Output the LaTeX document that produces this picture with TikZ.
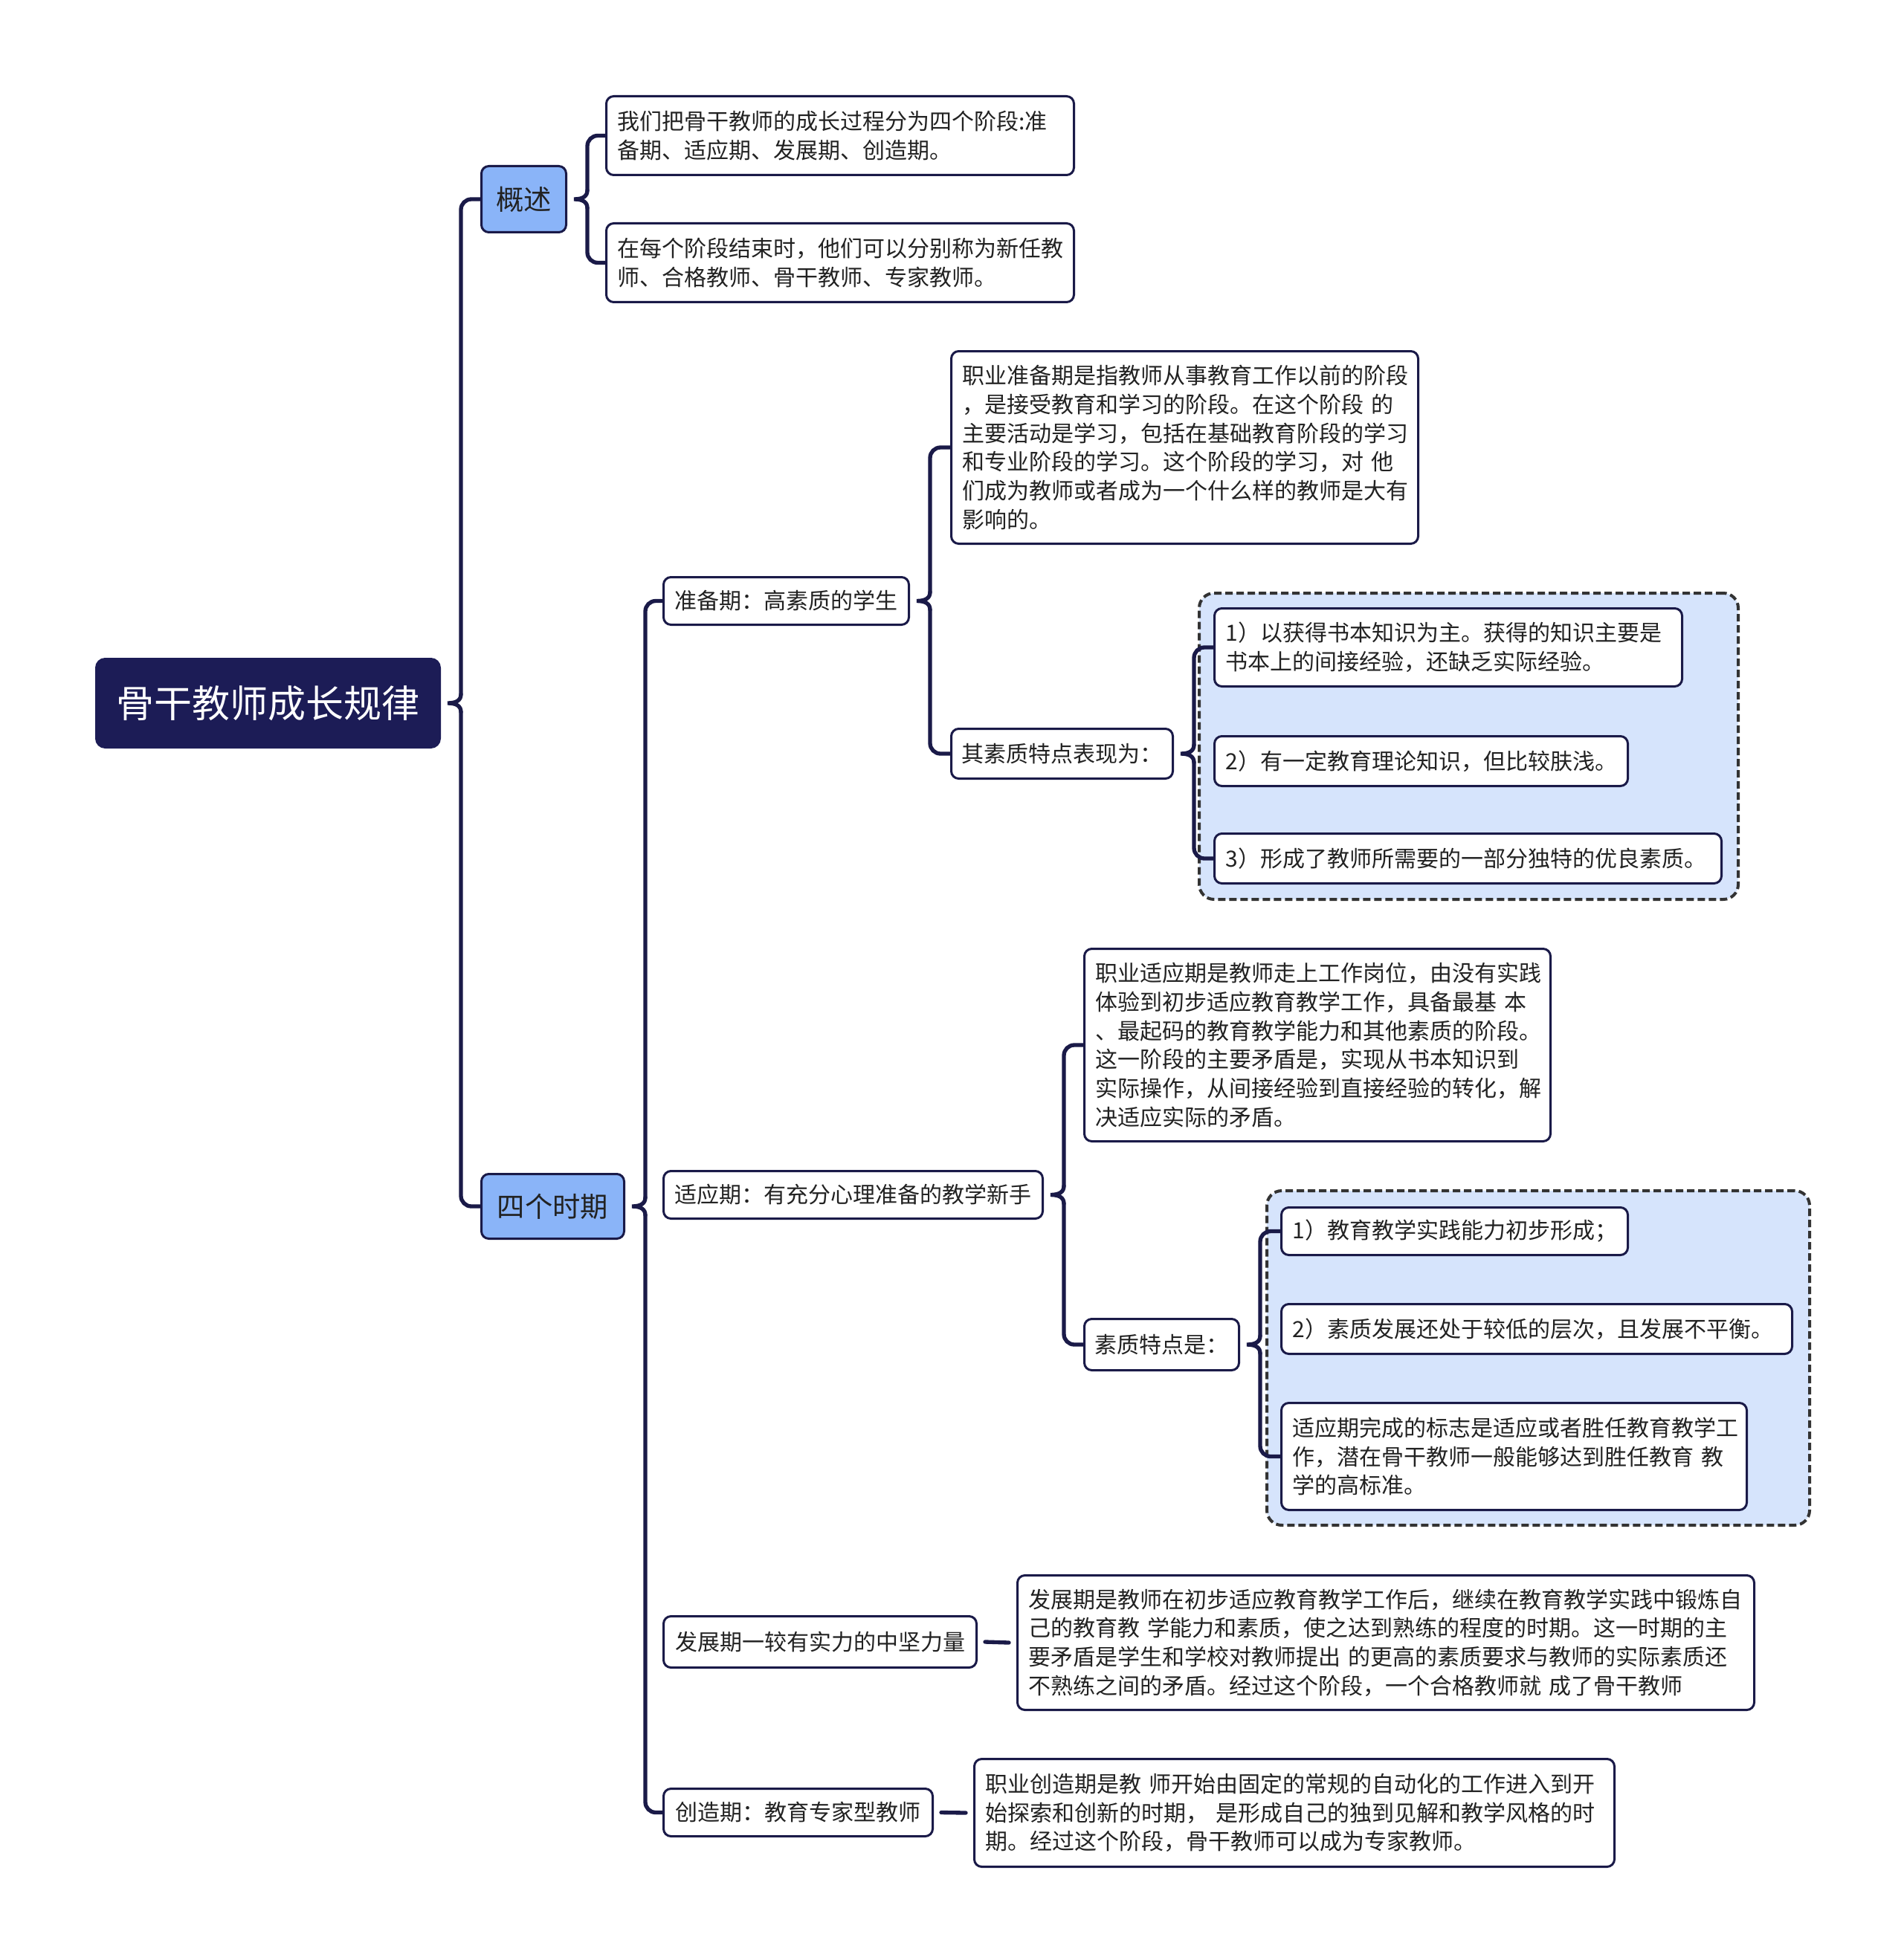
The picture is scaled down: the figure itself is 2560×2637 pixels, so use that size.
\documentclass[tikz,border=0pt]{standalone}
\usepackage{fontspec}
\setmainfont{Noto Sans CJK SC}
\usetikzlibrary{calc}
\definecolor{navy}{RGB}{28,28,86}
\definecolor{lineblue}{RGB}{26,26,72}
\definecolor{lvlone}{RGB}{138,180,248}
\definecolor{grpfill}{RGB}{214,228,252}
\definecolor{grpline}{RGB}{51,51,51}
\definecolor{txt}{RGB}{34,34,34}
\tikzset{
 bbase/.style={draw=lineblue, line width=0.9pt, rounded corners=3pt, fill=white, inner sep=0pt, align=left, text=txt, font=\fontsize{9pt}{11.6pt}\selectfont},
 rootbox/.style={bbase, fill=navy, draw=navy, text=white, rounded corners=3.6pt, align=center, font=\fontsize{15.3pt}{18pt}\selectfont},
 lone/.style={bbase, fill=lvlone, align=center, font=\fontsize{11.2pt}{13pt}\selectfont},
 lbl/.style={bbase, align=center},
 parabox/.style={bbase, inner xsep=4.5pt, inner ysep=0pt},
 grp/.style={draw=grpline, fill=grpfill, dash pattern=on 3pt off 1.5pt, line width=1.2pt, rounded corners=6pt, inner sep=0pt},
 conn/.style={draw=lineblue, line width=1.6pt, line cap=round},
}
\newcommand\mybox[7]{%
 \pgfmathsetmacro\mbw{#4*0.3}%
 \pgfmathsetmacro\mbh{#5*0.3}%
 \node[#6, anchor=north west, minimum width=\mbw pt, minimum height=\mbh pt] (#1) at (#2,#3) {#7};}
\newcommand\mypara[6]{%
 \pgfmathsetmacro\mbw{#4*0.3}%
 \pgfmathsetmacro\mbt{#4*0.3-9}%
 \pgfmathsetmacro\mbh{#5*0.3}%
 \node[parabox, anchor=north west, text width=\mbt pt, minimum width=\mbw pt, minimum height=\mbh pt] (#1) at (#2,#3) {#6};}
\newcommand\mybrace[3]{%
 \coordinate (BT) at ($(#1.east)+(27,0)$);
 \draw[conn, rounded corners=4.2pt] (#2.west) -- (BT |- #2.west) -- ($(BT)+(0,-12)$);
 \draw[conn] ($(BT)+(0,-12)$) .. controls ($(BT)+(0,-4)$) and ($(BT)+(-6,0)$) .. ($(BT)+(-18,0)$) .. controls ($(BT)+(-6,0)$) and ($(BT)+(0,4)$) .. ($(BT)+(0,12)$);
 \draw[conn, rounded corners=4.2pt] ($(BT)+(0,12)$) -- (BT |- #3.west) -- (#3.west);
}
\begin{document}
\begin{tikzpicture}[x=0.3pt,y=-0.3pt]
\path[fill=white] (0,0) rectangle (2560,2637);
\useasboundingbox (0,0) rectangle (2560,2637);
% groups
\mybox{g1}{1611}{796}{725}{412}{grp}{}
\mybox{g2}{1702}{1600}{730}{450}{grp}{}
% root and level one
\mybox{root}{128}{885}{462}{119}{rootbox}{骨干教师成长规律}
\mybox{gs}{646}{222}{114}{89}{lone}{概述}
\mybox{sq}{646}{1578}{192}{87}{lone}{四个时期}
% overview
\mypara{gs1}{814}{128}{629}{106}{我们把骨干教师的成长过程分为四个阶段:准\\备期、适应期、发展期、创造期。}
\mypara{gs2}{814}{299}{629}{106}{在每个阶段结束时，他们可以分别称为新任教\\师、合格教师、骨干教师、专家教师。}
% preparation
\mybox{zb}{891}{775}{330}{64}{lbl}{准备期：高素质的学生}
\mypara{zbt}{1278}{471}{628}{259}{职业准备期是指教师从事教育工作以前的阶段\\，是接受教育和学习的阶段。在这个阶段~的\\主要活动是学习，包括在基础教育阶段的学习\\和专业阶段的学习。这个阶段的学习，对~他\\们成为教师或者成为一个什么样的教师是大有\\影响的。}
\mybox{zbq}{1278}{979}{298}{67}{lbl}{其素质特点表现为：}
\mypara{g1a}{1632}{817}{629}{105}{1）以获得书本知识为主。获得的知识主要是\\书本上的间接经验，还缺乏实际经验。}
\mypara{g1b}{1632}{989}{556}{67}{2）有一定教育理论知识，但比较肤浅。}
\mypara{g1c}{1632}{1120}{682}{67}{3）形成了教师所需要的一部分独特的优良素质。}
% adaptation
\mybox{sy}{891}{1574}{510}{64}{lbl}{适应期：有充分心理准备的教学新手}
\mypara{syt}{1457}{1275}{627}{259}{职业适应期是教师走上工作岗位，由没有实践\\体验到初步适应教育教学工作，具备最基~本\\、最起码的教育教学能力和其他素质的阶段。\\这一阶段的主要矛盾是，实现从书本知识到\\实际操作，从间接经验到直接经验的转化，解\\决适应实际的矛盾。}
\mybox{syq}{1457}{1773}{208}{69}{lbl}{素质特点是：}
\mypara{g2a}{1722}{1623}{466}{64}{1）教育教学实践能力初步形成；}
\mypara{g2b}{1722}{1753}{687}{67}{2）素质发展还处于较低的层次，且发展不平衡。}
\mypara{g2c}{1722}{1886}{626}{144}{适应期完成的标志是适应或者胜任教育教学工\\作，潜在骨干教师一般能够达到胜任教育~教\\学的高标准。}
% development
\mybox{fz}{891}{2173}{421}{69}{lbl}{发展期一较有实力的中坚力量}
\mypara{fzt}{1367}{2118}{991}{181}{发展期是教师在初步适应教育教学工作后，继续在教育教学实践中锻炼自\\己的教育教~学能力和素质，使之达到熟练的程度的时期。这一时期的主\\要矛盾是学生和学校对教师提出~的更高的素质要求与教师的实际素质还\\不熟练之间的矛盾。经过这个阶段，一个合格教师就~成了骨干教师}
% creation
\mybox{cz}{891}{2405}{362}{64}{lbl}{创造期：教育专家型教师}
\mypara{czt}{1309}{2365}{861}{145}{职业创造期是教~师开始由固定的常规的自动化的工作进入到开\\始探索和创新的时期，~是形成自己的独到见解和教学风格的时\\期。经过这个阶段，骨干教师可以成为专家教师。}
% connectors
\mybrace{root}{gs}{sq}
\mybrace{gs}{gs1}{gs2}
\mybrace{sq}{zb}{cz}
\mybrace{zb}{zbt}{zbq}
\mybrace{zbq}{g1a}{g1c}
\mybrace{sy}{syt}{syq}
\mybrace{syq}{g2a}{g2c}
\draw[conn] ($(fz.east)+(10,0)$) -- ($(fzt.west)+(-10,0)$);
\draw[conn] ($(cz.east)+(10,0)$) -- ($(czt.west)+(-10,0)$);
\end{tikzpicture}
\end{document}
